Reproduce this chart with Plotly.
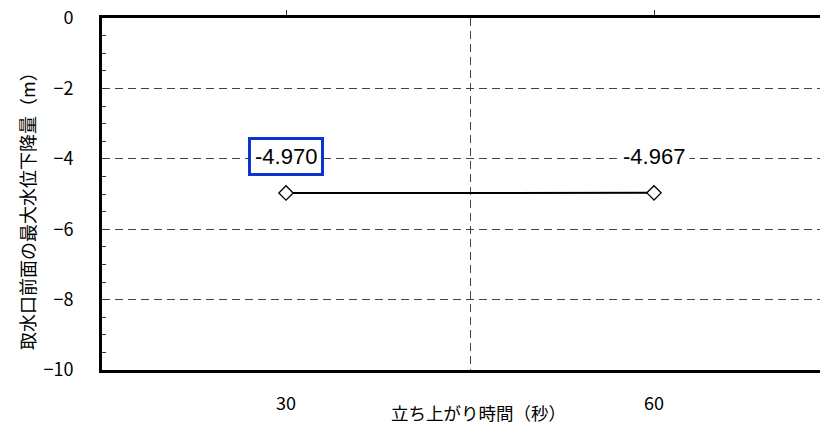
import plotly.graph_objects as go

categories = ["30", "60"]
values = [-4.970, -4.967]
y_tick_vals = [0, -2, -4, -6, -8, -10]
x_title = "立ち上がり時間（秒）"
y_title = "取水口前面の最大水位下降量（m）"

W, H = 820, 433
L, T = 102, 18
R = 0
ph = 352
B = H - T - ph
pw = W - L - R
unit = 368.0  # px per category
xpos = list(range(len(categories)))
xr = [-0.5, -0.5 + pw / unit]

tickfont = dict(family="Noto Sans CJK JP", size=18, color="black")
gridcol = "#444444"
dash = "8px,5px"

fig = go.Figure()
fig.add_trace(go.Scatter(
    x=xpos, y=values, mode="lines+markers",
    line=dict(color="black", width=2),
    marker=dict(symbol="diamond", size=11, color="white",
                line=dict(color="black", width=1.3)),
    showlegend=False, hoverinfo="skip", cliponaxis=False,
))

for i, (xp, v) in enumerate(zip(xpos, values)):
    ann = dict(x=xp, y=v, xref="x", yref="y", text=f"{v:.3f}",
               showarrow=False, yshift=36,
               font=dict(family="Liberation Sans", size=22, color="black"))
    if i == 0:
        ann.update(bordercolor="#0a35d0", borderwidth=3, borderpad=4,
                   bgcolor="white")
    else:
        ann.update(bgcolor="white", borderpad=4)
    fig.add_annotation(**ann)

fig.add_annotation(text=x_title, xref="paper", yref="paper",
                   x=(478 - L) / pw, y=(T + ph - 412) / ph,
                   xanchor="center", yanchor="middle", showarrow=False,
                   font=dict(family="Noto Sans CJK JP", size=17.5, color="black"))
fig.add_annotation(text=y_title, xref="paper", yref="paper",
                   x=(27 - L) / pw, y=(T + ph - 207) / ph,
                   textangle=-90,
                   xanchor="center", yanchor="middle", showarrow=False,
                   font=dict(family="Noto Sans CJK JP", size=18, color="black"))

fig.update_layout(
    width=W, height=H,
    margin=dict(l=L, r=R, t=T, b=B, pad=0),
    paper_bgcolor="white", plot_bgcolor="white",
    xaxis=dict(
        range=xr, tickvals=xpos, ticktext=categories,
        showline=True, linecolor="black", linewidth=3,
        ticks="", showgrid=False, zeroline=False,
        tickfont=tickfont, ticklabelstandoff=15, ticklabeloverflow="allow",
        minor=dict(tick0=0.5, dtick=1, showgrid=True, gridcolor=gridcol,
                   gridwidth=1, griddash=dash, ticks=""),
    ),
    xaxis2=dict(
        range=xr, overlaying="x", side="top", tickvals=xpos,
        showline=True, linecolor="black", linewidth=3,
        ticks="outside", ticklen=5, tickcolor="#333", tickwidth=1,
        showticklabels=False, showgrid=False, zeroline=False,
    ),
    yaxis=dict(
        range=[-10, 0], tickvals=y_tick_vals,
        showline=True, linecolor="black", linewidth=3,
        ticks="inside", ticklen=4, tickcolor="#333", tickwidth=1,
        showgrid=True, gridcolor=gridcol, gridwidth=1, griddash=dash,
        zeroline=False, tickfont=tickfont, ticklabelstandoff=22,
        ticklabeloverflow="allow",
        minor=dict(dtick=0.5, ticks="inside", ticklen=4, tickcolor="#333",
                   tickwidth=1, showgrid=False),
    ),
)
# invisible trace to activate top axis
fig.add_trace(go.Scatter(x=[xpos[0]], y=[values[0]], xaxis="x2", yaxis="y",
                         mode="markers", marker=dict(opacity=0),
                         showlegend=False, hoverinfo="skip"))

fig.write_html(
    "out.html",
    config={"displayModeBar": False},
    post_script="document.body.style.margin='0';document.body.style.overflow='hidden';",
)
